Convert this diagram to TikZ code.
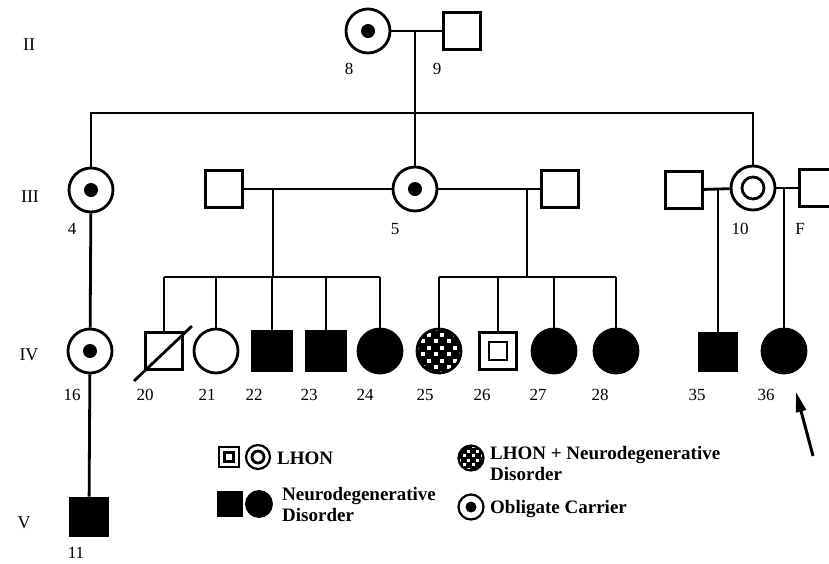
\documentclass[tikz,border=0pt]{standalone}
\usepackage{fontspec}
\setmainfont{Liberation Serif}
\usetikzlibrary{arrows.meta}

\begin{document}
\begin{tikzpicture}[
  x=1pt, y=-1pt,
  male/.style={rectangle, draw, line width=2.8pt, minimum size=37pt, inner sep=0pt},
  female/.style={circle, draw, line width=2.8pt, minimum size=44pt, inner sep=0pt},
  affected/.style={fill=black},
  carrier/.style={path picture={\fill (path picture bounding box.center) circle (#1);}},
  lhonf/.style={path picture={\draw[line width=2.8pt] (path picture bounding box.center) circle (#1);}},
  lhonm/.style={path picture={\draw[line width=2.8pt] ([shift={(-#1,-#1)}]path picture bounding box.center) rectangle ([shift={(#1,#1)}]path picture bounding box.center);}},
  checker/.style={fill=black, path picture={
    \foreach \i in {-5,...,4} \foreach \j in {-5,...,4} {
      \pgfmathtruncatemacro\odd{mod(\i+\j+20,2)}
      \ifnum\odd=0
        \fill[white] ([shift={(\i*#1+0.18*#1,\j*#1+0.18*#1)}]path picture bounding box.center) rectangle ++(0.64*#1,0.64*#1);
      \fi}}},
  tag/.style={font=\fontsize{17}{19}\selectfont},
  gen/.style={font=\fontsize{18}{20}\selectfont},
  key/.style={font=\fontsize{19}{21}\selectfont\bfseries, align=left, anchor=west, inner sep=0pt},
  line/.style={line width=2.8pt},
  pointer/.style={-{Triangle[length=20pt,width=10pt]}, line width=3pt}
]
\useasboundingbox (0,0) rectangle (829,563);

% Generation labels
\node[gen] (gII) at (29,45) {II};
\node[gen] (gIII) at (30,197) {III};
\node[gen] (gIV) at (29,355) {IV};
\node[gen] (gV) at (24,523) {V};

% Generation II
\node[female, carrier=7pt] (p8) at (368,31) {};
\node[male] (p9) at (462,31) {};
\node[tag] (n8) at (349,69) {8};
\node[tag] (n9) at (437,69) {9};

% Generation III
\node[female, carrier=7pt] (p4) at (91,190) {};
\node[male] (q5) at (224,189) {};
\node[female, carrier=7pt] (p5) at (415,189) {};
\node[male] (r5) at (560,189) {};
\node[male] (q10) at (684,190) {};
\node[female, lhonf=11pt] (p10) at (753,188) {};
\node[male] (pF) at (818,188) {};
\node[tag] (n4) at (72,229) {4};
\node[tag] (n5) at (395,229) {5};
\node[tag] (n10) at (740,229) {10};
\node[tag] (nF) at (800,229) {F};

% Generation IV
\node[female, carrier=7pt] (p16) at (90,351) {};
\node[male] (p20) at (164,351) {};
\node[female] (p21) at (216,351) {};
\node[male, affected, minimum size=39pt] (p22) at (272,351) {};
\node[male, affected, minimum size=39pt] (p23) at (326,351) {};
\node[female, affected] (p24) at (380,351) {};
\node[female, checker=6.4pt] (p25) at (439,351) {};
\node[male, lhonm=9pt] (p26) at (498,351) {};
\node[female, affected] (p27) at (554,351) {};
\node[female, affected] (p28) at (616,351) {};
\node[male, affected] (p35) at (718,352) {};
\node[female, affected] (p36) at (784,351) {};
\node[tag] (n16) at (72,395) {16};
\node[tag] (n20) at (145,395) {20};
\node[tag] (n21) at (207,395) {21};
\node[tag] (n22) at (254,395) {22};
\node[tag] (n23) at (309,395) {23};
\node[tag] (n24) at (365,395) {24};
\node[tag] (n25) at (425,395) {25};
\node[tag] (n26) at (482,395) {26};
\node[tag] (n27) at (538,395) {27};
\node[tag] (n28) at (600,395) {28};
\node[tag] (n35) at (697,395) {35};
\node[tag] (n36) at (766,395) {36};

% deceased
\draw[line] ([shift={(-10pt,-10pt)}]p20.south west) -- ([shift={(8pt,5pt)}]p20.north east);

% Generation V
\node[male, affected, minimum size=38pt] (p11) at (89,517) {};
\node[tag] (n11) at (76,553) {11};

% Legend
\node[male, minimum size=20pt, line width=2.2pt, lhonm=4.5pt] (kq1) at (229,457) {};
\node[female, minimum size=24pt, line width=2.2pt, lhonf=6pt] (kc1) at (258,457) {};
\node[key] (kt1) at (277,458) {LHON};
\node[male, affected, minimum size=23pt] (kq2) at (230,504) {};
\node[female, affected, minimum size=25pt] (kc2) at (259,504) {};
\node[key] (kt2) at (282,504) {Neurodegenerative\\Disorder};
\node[female, minimum size=25pt, line width=2.2pt, checker=4.4pt] (kc3) at (471,458) {};
\node[key] (kt3) at (490,463) {LHON + Neurodegenerative\\Disorder};
\node[female, minimum size=25pt, line width=2.2pt, carrier=5.5pt] (kc4) at (471,507) {};
\node[key] (kt4) at (490,509) {Obligate Carrier};

% Marriage and descent lines
\coordinate (m89) at (415,31);
\coordinate (bar2) at (415,113);
\draw[line] (p8) -- (p9);
\draw[line] (m89) -- (bar2);
\draw[line] (p4) -- (p4 |- bar2) -- (p10 |- bar2) -- (p10);
\draw[line] (p5) -- (p5 |- bar2);

\coordinate (m5a) at (273,189);
\coordinate (bar5a) at (273,277);
\draw[line] (q5) -- (p5);
\draw[line] (m5a) -- (bar5a);
\draw[line] (p20 |- bar5a) -- (p24 |- bar5a);
\foreach \k in {20,...,24} \draw[line] (p\k) -- (p\k |- bar5a);

\coordinate (m5b) at (527,189);
\coordinate (bar5b) at (527,277);
\draw[line] (p5) -- (r5);
\draw[line] (m5b) -- (bar5b);
\draw[line] (p25 |- bar5b) -- (p28 |- bar5b);
\foreach \k in {25,...,28} \draw[line] (p\k) -- (p\k |- bar5b);

\coordinate (m10a) at (718,188);
\coordinate (m10b) at (784,188);
\draw[line] (q10) -- (p10);
\draw[line] (p10) -- (pF);
\draw[line] (m10a) -- (p35);
\draw[line] (m10b) -- (p36);

\draw[line] (p4) -- (p16);
\draw[line] (p16) -- (p11);

% Proband
\coordinate (arrtail) at (813,456);
\coordinate (arrhead) at (796,392);
\draw[pointer] (arrtail) -- (arrhead);

\end{tikzpicture}
\end{document}
